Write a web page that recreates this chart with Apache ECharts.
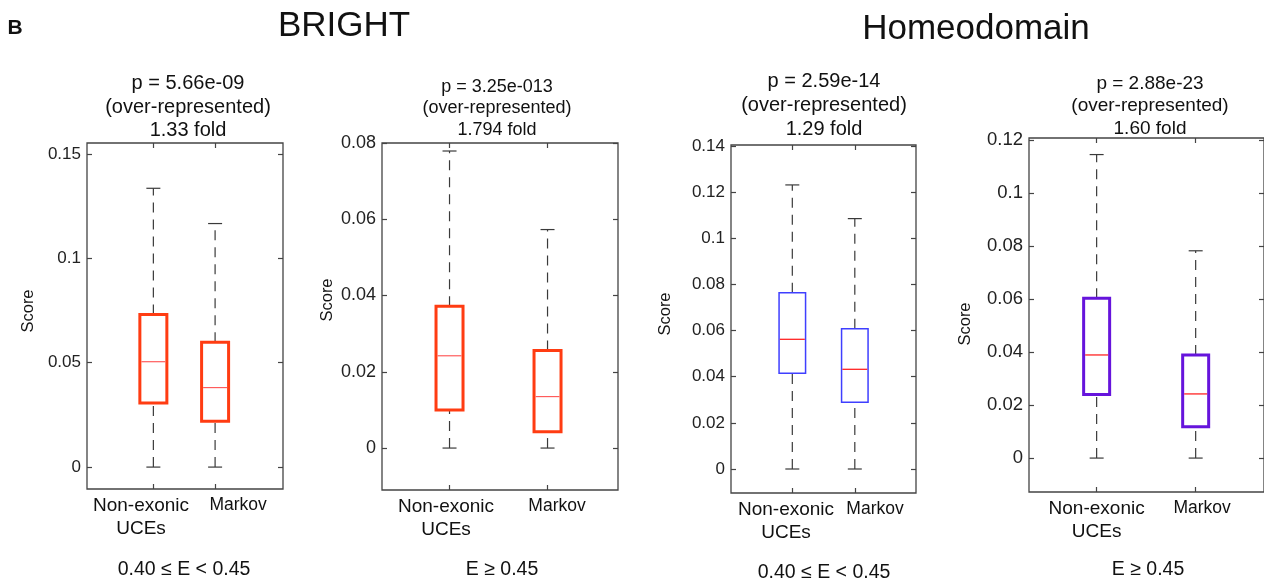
<!DOCTYPE html>
<html><head><meta charset="utf-8">
<script src="https://cdn.jsdelivr.net/npm/echarts@6/dist/echarts.min.js"></script>
<style>html,body{margin:0;padding:0;background:#fff}#c{width:1264px;height:583px}</style>
</head><body><div id="c"></div>
<script>
// ---------- data ----------
const categories = ['Non-exonic\nUCEs', 'Markov'];
const groupTitles = ['BRIGHT', 'Homeodomain'];
const panelLetter = 'B';
const panelTitles = [
  'p = 5.66e-09\n(over-represented)\n1.33 fold',
  'p = 3.25e-013\n(over-represented)\n1.794 fold',
  'p = 2.59e-14\n(over-represented)\n1.29 fold',
  'p = 2.88e-23\n(over-represented)\n1.60 fold'
];
const rangeLabels = ['0.40 \u2264 E < 0.45', 'E \u2265 0.45', '0.40 \u2264 E < 0.45', 'E \u2265 0.45'];
const yAxisName = 'Score';
// [lower whisker, Q1, median, Q3, upper whisker]
const brightLowUCE    = [0, 0.0307, 0.0505, 0.0731, 0.1336];
const brightLowMarkov = [0, 0.0220, 0.0381, 0.0598, 0.1167];
const brightHighUCE    = [0, 0.0100, 0.0242, 0.0372, 0.0779];
const brightHighMarkov = [0, 0.0043, 0.0135, 0.0256, 0.0573];
const homeoLowUCE    = [0, 0.0415, 0.0562, 0.0764, 0.1231];
const homeoLowMarkov = [0, 0.0289, 0.0432, 0.0608, 0.1085];
const homeoHighUCE    = [0, 0.0240, 0.0389, 0.0603, 0.1145];
const homeoHighMarkov = [0, 0.0118, 0.0242, 0.0389, 0.0782];
const yTicks1 = [0, 0.05, 0.1, 0.15];
const yTicks2 = [0, 0.02, 0.04, 0.06, 0.08];
const yTicks3 = [0, 0.02, 0.04, 0.06, 0.08, 0.1, 0.12, 0.14];
const yTicks4 = [0, 0.02, 0.04, 0.06, 0.08, 0.1, 0.12];

// ---------- layout / style ----------
const FONT = '"Liberation Sans", Arial, sans-serif';
const panels = [
  {grid:{left:87, top:143, width:196, height:346}, x:[-0.075, 3.10], y:[-0.0105, 0.1553], ticks:yTicks1,
   uce:brightLowUCE, mk:brightLowMarkov, labelAt:[0.80, 2.373], tickFont:17,
   box:{color:'#ff3c12', lw:3, w:27, med:'#ff5c5c', medLw:1.2},
   title:{x:188, y:107, size:20, lh:23.5}, range:{x:184, y:570}, score:{x:28, y:311}},
  {grid:{left:382, top:143, width:236, height:347}, x:[0.311, 2.719], y:[-0.011, 0.08], ticks:yTicks2,
   uce:brightHighUCE, mk:brightHighMarkov, labelAt:[0.964, 2.097], tickFont:18,
   box:{color:'#ff3c12', lw:3, w:27, med:'#ff5c5c', medLw:1.2},
   title:{x:497, y:108.5, size:18, lh:21.5}, range:{x:502, y:570}, score:{x:327, y:300}},
  {grid:{left:731, top:145, width:185, height:348}, x:[0.019, 2.979], y:[-0.0104, 0.1404], ticks:yTicks3,
   uce:homeoLowUCE, mk:homeoLowMarkov, labelAt:[0.899, 2.323], tickFont:17,
   box:{color:'#3f3fff', lw:1.5, w:26.5, med:'#ff2424', medLw:1.3},
   title:{x:824, y:105, size:20, lh:24}, range:{x:824, y:573}, score:{x:665, y:314}},
  {grid:{left:1029, top:138, width:236, height:354}, x:[0.317, 2.69], y:[-0.0128, 0.12075], ticks:yTicks4,
   uce:homeoHighUCE, mk:homeoHighMarkov, labelAt:[1.0, 2.065], tickFont:18.5,
   box:{color:'#6614dc', lw:3, w:26, med:'#ff2424', medLw:1.3},
   title:{x:1150, y:106, size:19, lh:22.5}, range:{x:1148, y:570}, score:{x:965, y:324}}
];

const AX = '#444';
const grids = [], xAxes = [], yAxes = [], series = [], graphics = [];

function renderer(st) {
  return function (params, api) {
    const xv = api.value(0);
    const lo = api.coord([xv, api.value(1)]);
    const q1 = api.coord([xv, api.value(2)]);
    const md = api.coord([xv, api.value(3)]);
    const q3 = api.coord([xv, api.value(4)]);
    const hi = api.coord([xv, api.value(5)]);
    const cx = lo[0], hw = st.w / 2, cw = 7;
    const dash = {stroke:'#3a3a3a', lineWidth:1.2, lineDash:[10, 7], fill:null};
    const solid = {stroke:'#3a3a3a', lineWidth:1.2, fill:null};
    return {type:'group', children:[
      {type:'line', shape:{x1:cx, y1:lo[1], x2:cx, y2:q1[1]}, style:dash},
      {type:'line', shape:{x1:cx, y1:q3[1], x2:cx, y2:hi[1]}, style:dash},
      {type:'line', shape:{x1:cx - cw, y1:lo[1], x2:cx + cw, y2:lo[1]}, style:solid},
      {type:'line', shape:{x1:cx - cw, y1:hi[1], x2:cx + cw, y2:hi[1]}, style:solid},
      {type:'rect', shape:{x:cx - hw, y:q3[1], width:st.w, height:q1[1] - q3[1]},
        style:{fill:'#fff', stroke:st.color, lineWidth:st.lw}},
      {type:'line', shape:{x1:cx - hw + st.lw/2, y1:md[1], x2:cx + hw - st.lw/2, y2:md[1]},
        style:{stroke:st.med, lineWidth:st.medLw}}
    ]};
  };
}

panels.forEach((p, i) => {
  grids.push(Object.assign({show:true, borderColor:AX, borderWidth:1.3, backgroundColor:'#fff'}, p.grid));
  const tickStyle = {show:true, inside:true, length:5, lineStyle:{color:AX, width:1.2}};
  const noLine = {show:false, onZero:false};
  // bottom x axis
  xAxes.push({type:'value', gridIndex:i, position:'bottom', min:p.x[0], max:p.x[1],
    axisLine:noLine, splitLine:{show:false},
    axisTick:Object.assign({customValues:[1, 2]}, tickStyle),
    axisLabel:{show:true, customValues:p.labelAt, margin:5, color:'#111', fontFamily:FONT,
      formatter:(v) => Math.abs(v - p.labelAt[0]) < 1e-6 ? '{n|Non-exonic}\n{n|UCEs}' : '{m|' + categories[1] + '}',
      rich:{n:{fontSize:19, lineHeight:23, fontFamily:FONT, color:'#111'},
            m:{fontSize:17.5, lineHeight:23, fontFamily:FONT, color:'#111'}}}
  });
  // top x axis (mirror ticks)
  xAxes.push({type:'value', gridIndex:i, position:'top', min:p.x[0], max:p.x[1],
    axisLine:noLine, splitLine:{show:false}, axisLabel:{show:false},
    axisTick:Object.assign({customValues:[1, 2]}, tickStyle)});
  // left y axis
  yAxes.push({type:'value', gridIndex:i, position:'left', min:p.y[0], max:p.y[1],
    axisLine:noLine, splitLine:{show:false},
    axisTick:Object.assign({customValues:p.ticks}, tickStyle),
    axisLabel:{customValues:p.ticks, margin:6, color:'#222', fontSize:p.tickFont, fontFamily:FONT,
      formatter:v => String(+(+v).toFixed(4))}});
  // right y axis (mirror ticks)
  yAxes.push({type:'value', gridIndex:i, position:'right', min:p.y[0], max:p.y[1],
    axisLine:noLine, splitLine:{show:false}, axisLabel:{show:false},
    axisTick:Object.assign({customValues:p.ticks}, tickStyle)});

  series.push({type:'custom', xAxisIndex:2 * i, yAxisIndex:2 * i, silent:true, clip:false,
    renderItem:renderer(p.box), encode:{x:0, y:[1, 2, 3, 4, 5]},
    data:[[1].concat(p.uce), [2].concat(p.mk)]});

  graphics.push({type:'text', x:p.title.x, y:p.title.y, silent:true,
    style:{text:panelTitles[i], textAlign:'center', textVerticalAlign:'middle',
      font:p.title.size + 'px ' + FONT, lineHeight:p.title.lh, fill:'#111'}});
  graphics.push({type:'text', x:p.range.x, y:p.range.y, silent:true,
    style:{text:rangeLabels[i], textAlign:'center', textVerticalAlign:'middle',
      font:'19.5px ' + FONT, fill:'#111'}});
  graphics.push({type:'text', x:p.score.x, y:p.score.y, rotation:Math.PI / 2, silent:true,
    style:{text:yAxisName, textAlign:'center', textVerticalAlign:'middle',
      font:'16.5px ' + FONT, fill:'#111'}});
});

graphics.push({type:'text', x:15, y:28, silent:true,
  style:{text:panelLetter, textAlign:'center', textVerticalAlign:'middle', font:'bold 21px ' + FONT, fill:'#111'}});
graphics.push({type:'text', x:344, y:26, silent:true,
  style:{text:groupTitles[0], textAlign:'center', textVerticalAlign:'middle', font:'35px ' + FONT, fill:'#111'}});
graphics.push({type:'text', x:976, y:29, silent:true,
  style:{text:groupTitles[1], textAlign:'center', textVerticalAlign:'middle', font:'35px ' + FONT, fill:'#111'}});

const chart = echarts.init(document.getElementById('c'), null, {renderer:'canvas'});
chart.setOption({
  animation:false,
  backgroundColor:'#fff',
  grid:grids, xAxis:xAxes, yAxis:yAxes, series:series, graphic:graphics
});
</script>
</body></html>
